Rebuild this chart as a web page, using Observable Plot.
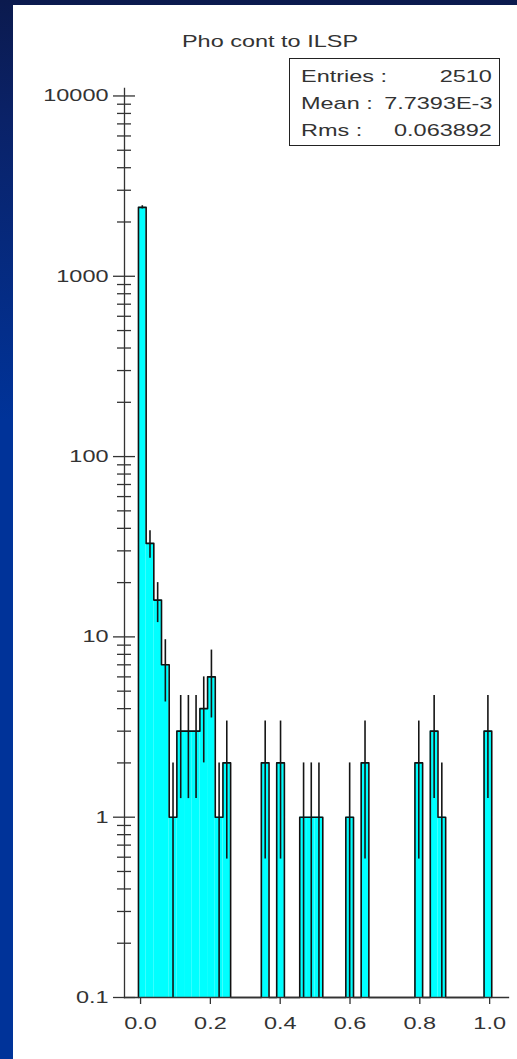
<!DOCTYPE html>
<html>
<head>
<meta charset="utf-8">
<script src="https://cdn.jsdelivr.net/npm/d3@7"></script>
<script src="https://cdn.jsdelivr.net/npm/@observablehq/plot@0.6"></script>
<style>
  html, body { margin: 0; padding: 0; }
  body {
    width: 517px; height: 1059px; overflow: hidden; position: relative;
    background: linear-gradient(180deg, #0b1a4e 0px, #0a2268 120px, #003399 420px, #003399 100%);
    font-family: "Liberation Sans", Arial, sans-serif;
  }
  #panel { position: absolute; left: 13px; top: 5px; width: 504px; height: 1054px; background: #fff; }
  #chart { position: absolute; left: 0; top: 0; }
  #title {
    position: absolute; left: 257px; top: 37px; font-size: 17px; color: #333; white-space: nowrap;
    transform: translate(-50%, -50%) scaleX(1.38);
  }
  #stats {
    position: absolute; left: 276px; top: 53px; width: 209px; height: 86px;
    border: 1.5px solid #222; background: #fff;
  }
  #stats span { position: absolute; font-size: 17px; color: #333; white-space: nowrap; line-height: 1; }
  #stats .l { left: 11px; transform: translateY(-50%) scaleX(1.38); transform-origin: left center; }
  #stats .r { right: 7px; transform: translateY(-50%) scaleX(1.38); transform-origin: right center; }
</style>
</head>
<body>
<div id="panel">
  <div id="chart"></div>
  <div id="title"></div>
  <div id="stats"></div>
</div>
<script>
// ---- data ----
const titleText = "Pho cont to ILSP";
const histRange = [-0.05, 1.05];
const nBins = 50;
const counts = [0, 0, 2412, 33, 16, 7, 1, 3, 3, 3, 4, 6, 1, 2, 0, 0, 0, 0, 2, 0,
                2, 0, 0, 1, 1, 1, 0, 0, 0, 1, 0, 2, 0, 0, 0, 0, 0, 0, 2, 0,
                3, 1, 0, 0, 0, 0, 0, 3, 0, 0];
const statLabels = ["Entries :", "Mean :", "Rms :"];
const statValues = ["2510", "7.7393E-3", "0.063892"];
const xTicks = [0, 0.2, 0.4, 0.6, 0.8, 1.0];
const yMajor = [0.1, 1, 10, 100, 1000, 10000];
const yMinorMultipliers = [2, 3, 4, 5, 6, 7, 8, 9];
const xDomain = [-0.046, 1.054];
const yDomain = [0.1, 11000];

// ---- derived ----
const bw = (histRange[1] - histRange[0]) / nBins;
const bins = counts.map((c, j) => ({
  lo: histRange[0] + j * bw,
  hi: histRange[0] + (j + 1) * bw,
  mid: histRange[0] + (j + 0.5) * bw,
  c
}));
const filled = bins.filter(b => b.c > 0);
const yMin = yDomain[0];
const first = bins.findIndex(b => b.c > 0);
let last = bins.length - 1; while (bins[last].c === 0) last--;
const used = bins.slice(first, last + 1);
const stepPts = [{x: used[0].lo, y: yMin}]
  .concat(used.map(b => ({x: b.lo, y: Math.max(b.c, yMin)})))
  .concat([{x: used[used.length - 1].hi, y: Math.max(used[used.length - 1].c, yMin)},
           {x: used[used.length - 1].hi, y: yMin}]);
const errs = filled.map(b => ({x: b.mid, lo: Math.max(b.c - Math.sqrt(b.c), yMin), hi: b.c + Math.sqrt(b.c)}));
const yMinor = [];
for (const d of yMajor.slice(0, -1)) for (const m of yMinorMultipliers) yMinor.push(+(m * d).toPrecision(3));

const axisColor = "#333";
const chart = Plot.plot({
  width: 504, height: 1054,
  marginLeft: 111, marginRight: 9, marginTop: 83, marginBottom: 62,
  style: {background: "transparent", fontFamily: "'Liberation Sans', Arial, sans-serif", fontSize: "17px", color: axisColor},
  x: {domain: xDomain},
  y: {type: "log", domain: yDomain},
  marks: [
    Plot.rectY(filled, {x1: "lo", x2: "hi", y1: yMin, y2: "c", fill: "#00ffff"}),
    Plot.line(stepPts, {x: "x", y: "y", curve: "step-after", stroke: "#111", strokeWidth: 1.6}),
    Plot.ruleX(errs, {x: "x", y1: "lo", y2: "hi", stroke: "#151515", strokeWidth: 1.6}),
    Plot.frame({anchor: "left", stroke: axisColor, strokeWidth: 1.3}),
    Plot.frame({anchor: "bottom", stroke: axisColor, strokeWidth: 1.3}),
    Plot.axisY({ticks: yMajor, tickSize: 22, dx: 11, text: null, label: null, stroke: axisColor, strokeWidth: 1.3}),
    Plot.axisY({ticks: yMinor, tickSize: 14, dx: 7, text: null, label: null, stroke: axisColor, strokeWidth: 1.3}),
    Plot.axisY({ticks: yMajor, tickSize: 0, tickPadding: 16, label: null, tickFormat: d => `${d}`, fill: axisColor, fontSize: 17}),
    Plot.axisX({ticks: xTicks, tickSize: 7, tickPadding: 12, label: null, tickFormat: d3.format(".1f"), stroke: axisColor, fill: axisColor, strokeWidth: 1.3, fontSize: 17})
  ]
});
document.getElementById("chart").appendChild(chart);

// horizontally stretched lettering as in the reference
const STRETCH = 1.38;
chart.querySelectorAll("text").forEach(t => {
  const L = t.getComputedTextLength();
  if (L > 0) { t.setAttribute("textLength", L * STRETCH); t.setAttribute("lengthAdjust", "spacingAndGlyphs"); }
});

document.getElementById("title").textContent = titleText;
const stats = document.getElementById("stats");
const rowCenters = [17, 44, 71];
statLabels.forEach((lab, i) => {
  const a = document.createElement("span"); a.className = "l"; a.textContent = lab; a.style.top = rowCenters[i] + "px";
  const b = document.createElement("span"); b.className = "r"; b.textContent = statValues[i]; b.style.top = rowCenters[i] + "px";
  stats.appendChild(a); stats.appendChild(b);
});
</script>
</body>
</html>
